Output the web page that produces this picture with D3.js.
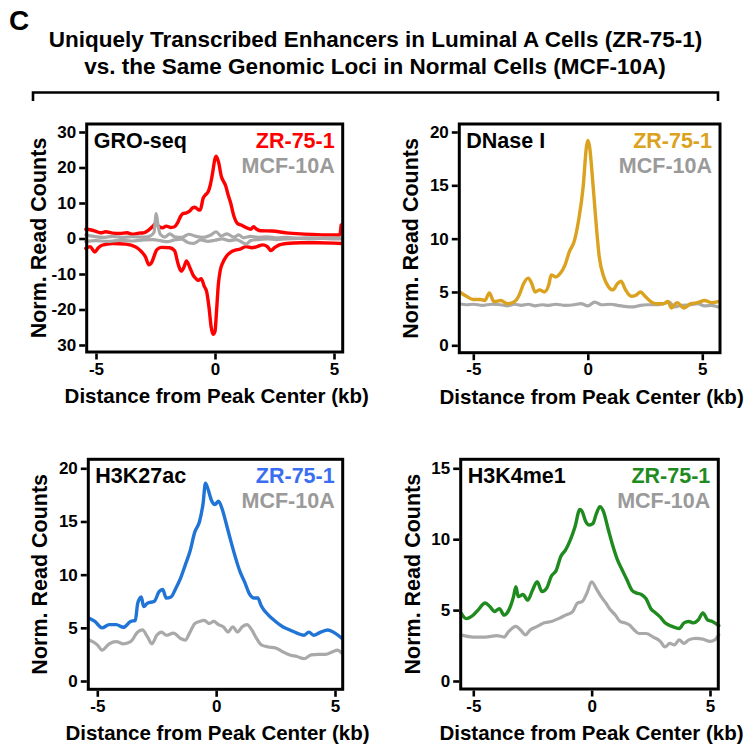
<!DOCTYPE html>
<html><head><meta charset="utf-8">
<script src="https://cdn.jsdelivr.net/npm/d3@7"></script>
<style>
html,body{margin:0;padding:0;background:#fff;}
svg text{font-family:"Liberation Sans",Arial,sans-serif;font-weight:bold;}
</style></head>
<body><svg id="c" width="749" height="746"></svg>
<script>
// ---------------- DATA ----------------
const panelLetter = "C";
const titleLines = ["Uniquely Transcribed Enhancers in Luminal A Cells (ZR-75-1)",
                    "vs. the Same Genomic Loci in Normal Cells (MCF-10A)"];
const seriesNames = ["ZR-75-1", "MCF-10A"];
const assays = ["GRO-seq", "DNase I", "H3K27ac", "H3K4me1"];
const yAxisTitle = "Norm. Read Counts";
const xAxisTitle = "Distance from Peak Center (kb)";
const xTicks = [-5, 0, 5];
const xTickLabels = ["-5", "0", "5"];
const groYTicks = [30, 20, 10, 0, -10, -20, -30];
const groYTickLabels = ["30", "20", "10", "0", "-10", "-20", "30"];
const dnaseYTicks = [0, 5, 10, 15, 20];
const k27YTicks = [0, 5, 10, 15, 20];
const k4YTicks = [0, 5, 10, 15];

// GRO-seq (sense / antisense)
const groZRPlus = [[-5.43,2.6],[-5.2,2.4],[-5.0,2.0],[-4.8,1.6],[-4.6,1.9],[-4.3,1.5],[-4.0,1.4],[-3.7,1.6],[-3.45,1.2],[-3.2,1.5],[-3.0,1.6],[-2.8,2.3],[-2.6,3.5],[-2.48,4.3],[-2.35,3.3],[-2.2,3.0],[-2.05,3.5],[-1.85,3.1],[-1.7,3.3],[-1.58,4.3],[-1.45,6.2],[-1.35,7.0],[-1.2,7.2],[-1.05,7.8],[-0.95,8.6],[-0.84,8.8],[-0.72,8.2],[-0.62,8.0],[-0.5,11.3],[-0.4,12.3],[-0.3,13.0],[-0.2,15.0],[-0.1,18.5],[0.0,22.5],[0.05,23.2],[0.15,21.5],[0.27,17.4],[0.35,16.2],[0.45,14.8],[0.55,12.3],[0.65,10.2],[0.8,6.2],[0.95,4.2],[1.1,3.8],[1.3,3.1],[1.5,2.6],[1.62,3.3],[1.75,2.6],[1.9,2.2],[2.4,2.1],[3.0,1.6],[3.6,1.3],[4.3,1.1],[5.0,1.0],[5.24,1.0],[5.3,3.8]];
const groZRMinus = [[-5.43,-2.8],[-5.25,-2.3],[-5.05,-3.8],[-4.9,-2.6],[-4.75,-1.9],[-4.3,-1.4],[-3.75,-1.6],[-3.35,-2.3],[-3.1,-3.6],[-2.92,-5.2],[-2.78,-7.4],[-2.65,-6.6],[-2.55,-4.8],[-2.45,-3.2],[-2.25,-2.5],[-1.9,-2.6],[-1.7,-3.4],[-1.55,-7.2],[-1.42,-9.2],[-1.3,-8.0],[-1.2,-6.3],[-1.05,-8.3],[-0.92,-10.3],[-0.8,-11.3],[-0.7,-11.8],[-0.58,-11.3],[-0.45,-13.5],[-0.35,-15.0],[-0.25,-19.5],[-0.16,-25.0],[-0.08,-27.0],[0.0,-26.2],[0.06,-21.0],[0.14,-13.0],[0.22,-9.0],[0.33,-6.8],[0.48,-5.0],[0.65,-3.9],[0.85,-3.3],[1.05,-3.0],[1.3,-2.3],[1.55,-2.6],[1.8,-2.2],[2.0,-1.8],[2.2,-2.3],[2.35,-3.4],[2.5,-2.6],[2.7,-1.8],[3.0,-1.4],[3.6,-1.2],[4.3,-1.2],[5.0,-1.3],[5.32,-1.4]];
const groMCFPlus = [[-5.43,1.0],[-5.1,0.6],[-4.7,0.3],[-4.3,0.6],[-3.9,0.3],[-3.5,0.5],[-3.0,0.4],[-2.7,0.8],[-2.56,1.8],[-2.47,7.0],[-2.39,3.5],[-2.3,1.2],[-2.1,0.4],[-1.9,1.3],[-1.7,0.5],[-1.4,0.3],[-1.1,1.2],[-0.8,0.6],[-0.5,0.3],[-0.2,0.9],[0.05,1.9],[0.25,0.7],[0.5,1.3],[0.8,0.4],[1.0,1.0],[1.2,0.2],[1.5,0.6],[1.8,0.3],[2.2,0.5],[2.6,0.2],[3.0,0.3],[3.5,0.1],[4.0,0.2],[4.5,0.1],[5.0,0.2],[5.32,0.1]];
const groMCFMinus = [[-5.43,-0.9],[-5.0,-0.6],[-4.5,-0.8],[-4.0,-0.5],[-3.5,-0.7],[-3.0,-0.4],[-2.6,-0.3],[-2.3,-0.6],[-2.0,-0.9],[-1.7,-0.4],[-1.4,-0.2],[-1.15,-1.1],[-0.9,-1.4],[-0.6,-0.4],[-0.3,-0.8],[0.0,-0.5],[0.3,-0.1],[0.6,-0.6],[0.9,-0.3],[1.1,-0.9],[1.3,-1.6],[1.5,-0.6],[1.8,-0.3],[2.2,-0.1],[2.6,-0.3],[3.0,-0.1],[3.5,0.0],[4.0,-0.1],[4.5,0.0],[5.0,-0.1],[5.32,-0.1]];

// DNase I
const dnaseZR = [[-5.6,5.0],[-5.3,4.6],[-5.0,4.3],[-4.7,4.3],[-4.5,4.2],[-4.3,4.9],[-4.1,4.1],[-3.8,4.2],[-3.5,3.9],[-3.2,4.1],[-3.0,4.7],[-2.8,5.8],[-2.6,6.3],[-2.45,5.8],[-2.3,5.0],[-2.1,5.2],[-1.9,5.0],[-1.7,5.7],[-1.6,6.6],[-1.4,6.4],[-1.2,6.75],[-1.0,7.5],[-0.8,8.8],[-0.6,9.7],[-0.4,11.75],[-0.2,14.9],[-0.06,18.6],[0.0,19.2],[0.08,18.6],[0.2,15.8],[0.35,11.75],[0.5,8.3],[0.7,6.4],[0.9,5.5],[1.1,5.2],[1.3,5.8],[1.45,6.0],[1.65,5.2],[1.9,4.6],[2.1,4.7],[2.3,5.0],[2.5,4.6],[2.75,4.1],[3.0,3.9],[3.3,3.9],[3.5,4.1],[3.65,3.5],[3.9,4.0],[4.2,3.5],[4.5,3.9],[4.8,4.0],[5.1,4.2],[5.4,4.0],[5.7,4.1]];
const dnaseMCF = [[-5.6,3.9],[-5.3,3.8],[-5.0,3.85],[-4.6,3.75],[-4.2,3.85],[-3.8,3.8],[-3.5,3.7],[-3.2,3.85],[-2.9,3.75],[-2.6,3.85],[-2.3,3.7],[-2.0,3.8],[-1.7,3.75],[-1.4,3.85],[-1.0,3.75],[-0.6,3.8],[-0.3,3.9],[0.0,3.7],[0.3,4.05],[0.6,3.8],[1.0,3.85],[1.3,3.75],[1.6,3.65],[2.0,3.6],[2.3,3.75],[2.6,3.8],[3.0,3.8],[3.3,3.9],[3.55,4.05],[3.8,3.6],[4.1,3.75],[4.5,3.8],[4.8,3.9],[5.1,3.7],[5.4,3.75],[5.7,3.6]];

// H3K27ac
const k27ZR = [[-5.34,5.9],[-5.1,5.6],[-4.8,5.0],[-4.5,5.3],[-4.2,5.3],[-3.9,5.05],[-3.6,5.6],[-3.4,5.7],[-3.3,7.3],[-3.15,7.9],[-3.05,7.0],[-2.9,7.3],[-2.6,7.5],[-2.4,8.4],[-2.25,8.6],[-2.1,7.8],[-1.9,7.9],[-1.7,8.7],[-1.5,9.65],[-1.3,10.9],[-1.1,12.2],[-0.9,14.0],[-0.7,15.0],[-0.55,16.7],[-0.45,18.6],[-0.35,18.1],[-0.2,17.0],[-0.05,16.6],[0.1,16.9],[0.25,16.2],[0.4,15.0],[0.6,13.3],[0.8,11.7],[1.0,10.3],[1.2,9.3],[1.4,8.2],[1.6,7.8],[1.75,7.8],[1.9,7.05],[2.2,6.2],[2.5,5.6],[2.8,5.1],[3.1,4.8],[3.4,4.5],[3.7,4.3],[3.9,4.6],[4.1,4.3],[4.4,4.6],[4.7,4.8],[5.0,4.5],[5.3,4.0]];
const k27MCF = [[-5.34,3.85],[-5.0,3.4],[-4.8,2.9],[-4.5,3.5],[-4.2,3.7],[-3.9,3.5],[-3.6,3.7],[-3.3,4.6],[-3.1,4.8],[-2.9,4.2],[-2.7,3.5],[-2.5,4.3],[-2.3,4.6],[-2.1,4.3],[-1.8,4.5],[-1.5,4.0],[-1.3,3.85],[-1.1,4.6],[-0.9,5.4],[-0.7,5.6],[-0.5,5.7],[-0.3,5.4],[-0.1,5.6],[0.1,5.3],[0.3,5.1],[0.5,4.6],[0.7,5.1],[0.9,4.6],[1.1,5.1],[1.3,5.3],[1.5,4.8],[1.7,4.0],[1.9,3.4],[2.2,3.2],[2.5,3.1],[2.8,2.75],[3.1,2.45],[3.4,2.3],[3.7,2.1],[4.0,2.45],[4.3,2.5],[4.6,2.5],[4.9,2.75],[5.1,2.9],[5.3,2.6]];

// H3K4me1
const k4ZR = [[-5.52,4.8],[-5.3,4.4],[-5.0,4.65],[-4.8,5.0],[-4.5,5.5],[-4.3,5.25],[-4.1,4.9],[-3.9,5.1],[-3.7,4.65],[-3.5,5.0],[-3.3,5.95],[-3.2,6.65],[-3.1,5.95],[-2.9,6.1],[-2.7,5.7],[-2.5,6.4],[-2.3,7.0],[-2.1,6.3],[-1.9,6.55],[-1.7,7.4],[-1.5,7.8],[-1.3,8.8],[-1.1,9.25],[-0.9,9.95],[-0.7,10.9],[-0.5,12.1],[-0.4,11.95],[-0.25,11.25],[-0.1,11.0],[0.05,11.1],[0.2,11.8],[0.35,12.3],[0.5,11.95],[0.7,10.7],[0.9,9.5],[1.1,8.5],[1.3,7.8],[1.5,7.1],[1.7,6.4],[1.9,6.2],[2.1,6.1],[2.3,5.8],[2.5,5.1],[2.7,4.8],[2.9,4.5],[3.1,4.1],[3.4,3.85],[3.7,3.7],[3.9,4.1],[4.1,4.2],[4.3,4.1],[4.5,4.3],[4.7,4.8],[4.9,4.3],[5.1,4.2],[5.37,3.9]];
const k4MCF = [[-5.52,3.25],[-5.0,3.1],[-4.5,3.1],[-4.0,3.2],[-3.7,3.1],[-3.5,3.5],[-3.2,3.85],[-3.0,3.6],[-2.8,3.25],[-2.6,3.6],[-2.3,3.85],[-2.0,4.1],[-1.7,4.2],[-1.4,4.4],[-1.1,4.65],[-0.8,4.9],[-0.6,5.5],[-0.4,5.6],[-0.2,6.2],[0.0,7.0],[0.2,6.5],[0.4,5.95],[0.6,5.5],[0.8,5.0],[1.0,4.65],[1.2,4.2],[1.4,4.1],[1.6,3.95],[1.8,3.6],[2.0,3.35],[2.3,3.35],[2.6,3.1],[2.9,2.8],[3.1,2.4],[3.3,2.65],[3.5,2.55],[3.7,2.9],[3.9,2.65],[4.1,2.9],[4.4,3.0],[4.7,2.95],[5.0,2.8],[5.2,2.9],[5.37,3.25]];

// ---------------- LAYOUT / STYLE ----------------
const GRAY = "#a9a9a9", GRAYTXT = "#9a9a9a";
const panels = [
  {name: assays[0], zrColor: "#ff0000", zrText: "#ff0000",
   box: {l: 86.7, r: 342.7, t: 124, b: 352}, xr: [96, 334], yd: [-30, 30], yr: [345, 132],
   yTicks: groYTicks, yLabels: groYTickLabels,
   zr: [groZRPlus, groZRMinus], mcf: [groMCFPlus, groMCFMinus], grayOnTop: true},
  {name: assays[1], zrColor: "#daa21e", zrText: "#daa21e",
   box: {l: 459.3, r: 720, t: 124, b: 352.7}, xr: [473.3, 702.3], yd: [0, 20], yr: [345.3, 132],
   yTicks: dnaseYTicks, yLabels: dnaseYTicks.map(String),
   zr: [dnaseZR], mcf: [dnaseMCF], grayOnTop: false},
  {name: assays[2], zrColor: "#1f74d6", zrText: "#3a6ef2",
   box: {l: 88.3, r: 342.7, t: 459.3, b: 689.3}, xr: [97.3, 335], yd: [0, 20], yr: [681, 468.3],
   yTicks: k27YTicks, yLabels: k27YTicks.map(String),
   zr: [k27ZR], mcf: [k27MCF], grayOnTop: false},
  {name: assays[3], zrColor: "#1f8b1f", zrText: "#1f8b1f",
   box: {l: 460.7, r: 718.3, t: 459.3, b: 689}, xr: [473.3, 710], yd: [0, 15], yr: [681, 468.3],
   yTicks: k4YTicks, yLabels: k4YTicks.map(String),
   zr: [k4ZR], mcf: [k4MCF], grayOnTop: false}
];

const svg = d3.select("#c");

// Panel letter and title
svg.append("text").attr("x", 9).attr("y", 30).attr("font-size", 28).text(panelLetter);
svg.append("text").attr("x", 375.5).attr("y", 47).attr("text-anchor", "middle")
   .attr("font-size", 22.5).text(titleLines[0]);
svg.append("text").attr("x", 375).attr("y", 74).attr("text-anchor", "middle")
   .attr("font-size", 22.5).text(titleLines[1]);
// bracket
const bx = d3.scaleLinear().domain([0, 1]).range([33, 718]);
svg.append("path")
   .attr("d", d3.line()([[bx(0), 101], [bx(0), 92.5], [bx(1), 92.5], [bx(1), 101]]))
   .attr("fill", "none").attr("stroke", "#000").attr("stroke-width", 2.6);

panels.forEach(p => {
  const g = svg.append("g");
  const x = d3.scaleLinear().domain([xTicks[0], xTicks[2]]).range(p.xr);
  const y = d3.scaleLinear().domain(p.yd).range(p.yr);
  const line = d3.line().x(d => x(d[0])).y(d => y(d[1])).curve(d3.curveMonotoneX);

  const drawSet = (arr, color, w) => arr.forEach(s => g.append("path").datum(s)
      .attr("d", line).attr("fill", "none").attr("stroke", color)
      .attr("stroke-width", w).attr("stroke-linejoin", "round").attr("stroke-linecap", "round"));
  if (p.grayOnTop) { drawSet(p.zr, p.zrColor, 3.4); drawSet(p.mcf, GRAY, 3.2); }
  else { drawSet(p.mcf, GRAY, 3.2); drawSet(p.zr, p.zrColor, 3.4); }

  // frame
  const b = p.box;
  g.append("rect").attr("x", b.l).attr("y", b.t).attr("width", b.r - b.l).attr("height", b.b - b.t)
   .attr("fill", "none").attr("stroke", "#000").attr("stroke-width", 3);

  // y axis
  const ya = g.append("g").attr("transform", `translate(${b.l - 1.5},0)`)
    .call(d3.axisLeft(y).tickValues(p.yTicks).tickSize(6).tickPadding(3)
      .tickFormat((d, i) => p.yLabels[i]));
  ya.select(".domain").remove();
  ya.selectAll(".tick line").attr("stroke-width", 2.6);
  ya.selectAll(".tick text").attr("font-size", 17).attr("font-family", null).attr("fill", "#000");

  // x axis
  const xa = g.append("g").attr("transform", `translate(0,${b.b + 1.5})`)
    .call(d3.axisBottom(x).tickValues(xTicks).tickSize(6).tickPadding(3)
      .tickFormat((d, i) => xTickLabels[i]));
  xa.select(".domain").remove();
  xa.selectAll(".tick line").attr("stroke-width", 2.6);
  xa.selectAll(".tick text").attr("font-size", 17).attr("font-family", null).attr("fill", "#000");

  // axis titles
  const cy = (b.t + b.b) / 2;
  g.append("text").attr("transform", `translate(${b.l - 41},${cy}) rotate(-90)`)
   .attr("text-anchor", "middle").attr("font-size", 21.5).text(yAxisTitle);
  g.append("text").attr("x", (b.l + b.r) / 2 + 2).attr("y", b.b + 51)
   .attr("text-anchor", "middle").attr("font-size", 20.5).text(xAxisTitle);

  // labels
  g.append("text").attr("x", b.l + 7).attr("y", b.t + 24).attr("font-size", 21.5).text(p.name);
  g.append("text").attr("x", b.r - 8).attr("y", b.t + 24).attr("text-anchor", "end")
   .attr("font-size", 21.5).attr("fill", p.zrText).text(seriesNames[0]);
  g.append("text").attr("x", b.r - 8).attr("y", b.t + 49).attr("text-anchor", "end")
   .attr("font-size", 21.5).attr("fill", GRAYTXT).text(seriesNames[1]);
});
</script></body></html>
